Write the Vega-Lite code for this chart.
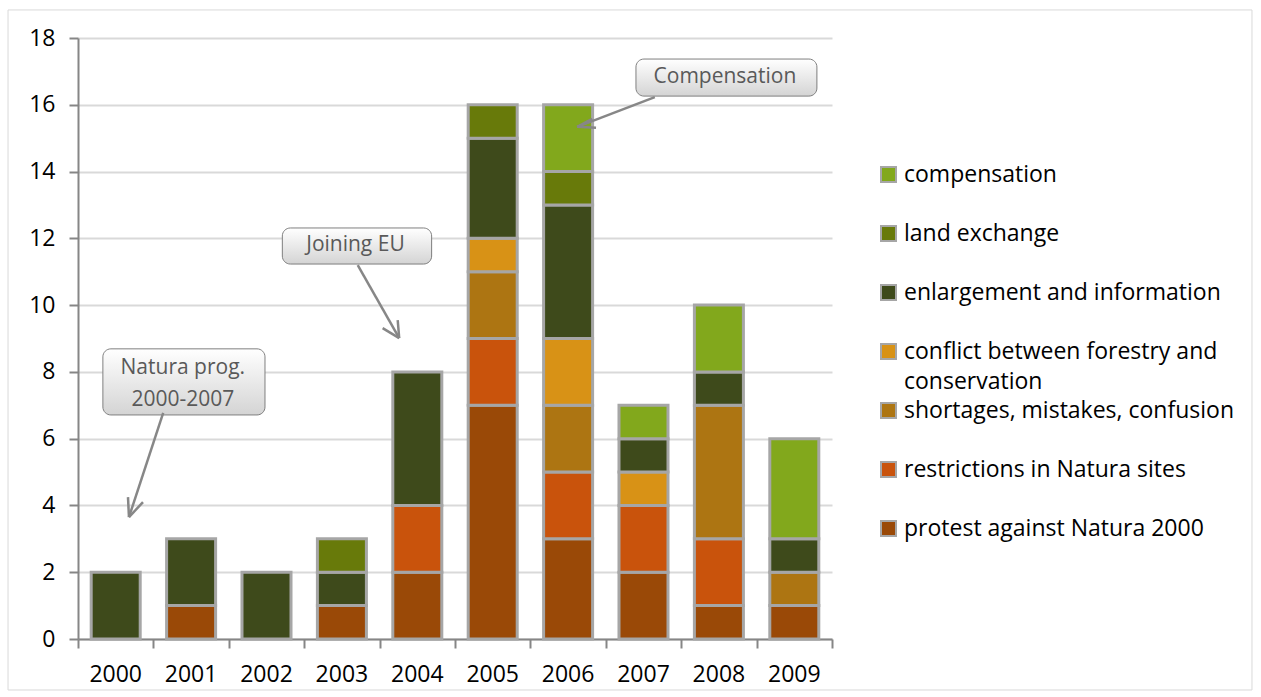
{
  "$schema": "https://vega.github.io/schema/vega-lite/v6.json",
  "autosize": "none",
  "width": 754,
  "height": 601,
  "padding": {"left": 78, "top": 38, "right": 429, "bottom": 58},
  "background": "white",
  "config": {"view": {"stroke": null}, "font": "Open Sans"},
  "datasets": {
    "bars": [
      {"year": "2000", "cat": "enlargement and information", "n": 2, "k": 5},
      {"year": "2001", "cat": "protest against Natura 2000", "n": 1, "k": 1},
      {"year": "2001", "cat": "enlargement and information", "n": 2, "k": 5},
      {"year": "2002", "cat": "enlargement and information", "n": 2, "k": 5},
      {"year": "2003", "cat": "protest against Natura 2000", "n": 1, "k": 1},
      {"year": "2003", "cat": "enlargement and information", "n": 1, "k": 5},
      {"year": "2003", "cat": "land exchange", "n": 1, "k": 6},
      {"year": "2004", "cat": "protest against Natura 2000", "n": 2, "k": 1},
      {"year": "2004", "cat": "restrictions in Natura sites", "n": 2, "k": 2},
      {"year": "2004", "cat": "enlargement and information", "n": 4, "k": 5},
      {"year": "2005", "cat": "protest against Natura 2000", "n": 7, "k": 1},
      {"year": "2005", "cat": "restrictions in Natura sites", "n": 2, "k": 2},
      {"year": "2005", "cat": "shortages, mistakes, confusion", "n": 2, "k": 3},
      {"year": "2005", "cat": "conflict between forestry and conservation", "n": 1, "k": 4},
      {"year": "2005", "cat": "enlargement and information", "n": 3, "k": 5},
      {"year": "2005", "cat": "land exchange", "n": 1, "k": 6},
      {"year": "2006", "cat": "protest against Natura 2000", "n": 3, "k": 1},
      {"year": "2006", "cat": "restrictions in Natura sites", "n": 2, "k": 2},
      {"year": "2006", "cat": "shortages, mistakes, confusion", "n": 2, "k": 3},
      {"year": "2006", "cat": "conflict between forestry and conservation", "n": 2, "k": 4},
      {"year": "2006", "cat": "enlargement and information", "n": 4, "k": 5},
      {"year": "2006", "cat": "land exchange", "n": 1, "k": 6},
      {"year": "2006", "cat": "compensation", "n": 2, "k": 7},
      {"year": "2007", "cat": "protest against Natura 2000", "n": 2, "k": 1},
      {"year": "2007", "cat": "restrictions in Natura sites", "n": 2, "k": 2},
      {"year": "2007", "cat": "conflict between forestry and conservation", "n": 1, "k": 4},
      {"year": "2007", "cat": "enlargement and information", "n": 1, "k": 5},
      {"year": "2007", "cat": "compensation", "n": 1, "k": 7},
      {"year": "2008", "cat": "protest against Natura 2000", "n": 1, "k": 1},
      {"year": "2008", "cat": "restrictions in Natura sites", "n": 2, "k": 2},
      {"year": "2008", "cat": "shortages, mistakes, confusion", "n": 4, "k": 3},
      {"year": "2008", "cat": "enlargement and information", "n": 1, "k": 5},
      {"year": "2008", "cat": "compensation", "n": 2, "k": 7},
      {"year": "2009", "cat": "protest against Natura 2000", "n": 1, "k": 1},
      {"year": "2009", "cat": "shortages, mistakes, confusion", "n": 1, "k": 3},
      {"year": "2009", "cat": "enlargement and information", "n": 1, "k": 5},
      {"year": "2009", "cat": "compensation", "n": 3, "k": 7}
    ],
    "frame": [{"x": -0.928, "x2": 15.57, "y": 18.84, "y2": -1.527}],
    "boxes": [
      {"x": 0.33, "x2": 2.48, "y": 8.69, "y2": 6.71},
      {"x": 2.71, "x2": 4.69, "y": 12.31, "y2": 11.23},
      {"x": 7.40, "x2": 9.80, "y": 17.37, "y2": 16.26}
    ],
    "labels": [
      {"x": 1.39, "y": 8.12, "t": "Natura prog.\n2000-2007"},
      {"x": 3.68, "y": 11.80, "t": "Joining EU"},
      {"x": 8.58, "y": 16.84, "t": "Compensation"}
    ],
    "arrows": [
      {"x": 1.13, "y": 6.77, "x2": 0.676, "y2": 3.65},
      {"x": 0.676, "y": 3.65, "x2": 0.663, "y2": 4.25},
      {"x": 0.676, "y": 3.65, "x2": 0.862, "y2": 4.10},
      {"x": 3.71, "y": 11.2, "x2": 4.26, "y2": 9.01},
      {"x": 4.26, "y": 9.01, "x2": 4.04, "y2": 9.31},
      {"x": 4.26, "y": 9.01, "x2": 4.24, "y2": 9.55},
      {"x": 7.65, "y": 16.23, "x2": 6.62, "y2": 15.34},
      {"x": 6.62, "y": 15.34, "x2": 6.82, "y2": 15.58},
      {"x": 6.62, "y": 15.34, "x2": 6.87, "y2": 15.31}
    ]
  },
  "resolve": {
    "scale": {"x": "independent", "y": "independent", "color": "independent"},
    "axis": {"x": "independent", "y": "independent"}
  },
  "layer": [
    {
      "data": {"name": "frame"},
      "mark": {"type": "rect", "fill": "white", "fillOpacity": 0, "stroke": "#D9D9D9", "strokeWidth": 1},
      "encoding": {
        "x": {"field": "x", "type": "quantitative", "scale": {"domain": [0, 10], "nice": false, "zero": false},
          "axis": {"orient": "bottom", "values": [0, 1, 2, 3, 4, 5, 6, 7, 8, 9, 10], "labels": false, "grid": false, "title": null,
            "domainColor": "#868686", "domainWidth": 2, "tickColor": "#868686", "tickWidth": 2, "tickSize": 9}},
        "x2": {"field": "x2"},
        "y": {"field": "y", "type": "quantitative", "scale": {"domain": [0, 18], "nice": false, "zero": false}, "axis": null},
        "y2": {"field": "y2"}
      }
    },
    {
      "data": {"name": "bars"},
      "mark": {"type": "bar", "stroke": "#A6A6A6", "strokeWidth": 3},
      "encoding": {
        "x": {"field": "year", "type": "nominal", "scale": {"paddingInner": 0.35, "paddingOuter": 0.175},
          "axis": {"orient": "bottom", "title": null, "labelAngle": 0, "domain": false, "ticks": false, "labelPadding": 24,
            "labelFontSize": 23, "labelColor": "#000000", "labelFont": "Open Sans"}},
        "y": {"field": "n", "type": "quantitative", "stack": "zero", "scale": {"domain": [0, 18], "nice": false},
          "axis": {"title": null, "values": [0, 2, 4, 6, 8, 10, 12, 14, 16, 18], "grid": true, "gridColor": "#D9D9D9", "gridWidth": 2,
            "domainColor": "#868686", "domainWidth": 2, "tickColor": "#868686", "tickWidth": 2, "tickSize": 9,
            "labelFontSize": 23, "labelColor": "#000000", "labelPadding": 14, "labelFont": "Open Sans"}},
        "order": {"field": "k", "type": "quantitative", "sort": "ascending"},
        "color": {"field": "cat", "type": "nominal",
          "scale": {
            "domain": ["compensation", "land exchange", "enlargement and information", "conflict between forestry and conservation", "shortages, mistakes, confusion", "restrictions in Natura sites", "protest against Natura 2000"],
            "range": ["#82A81C", "#687A0A", "#3E4A1B", "#D89216", "#AD7512", "#C9530C", "#9A4907"]
          },
          "legend": {
            "orient": "none", "legendX": 799, "legendY": 125, "title": null, "padding": 0,
            "symbolType": "square", "symbolSize": 225, "symbolStrokeColor": "#A6A6A6", "symbolStrokeWidth": 2, "symbolOpacity": 1,
            "labelFontSize": 23, "labelFont": "Open Sans", "labelColor": "#000000", "labelLimit": 400, "labelOffset": 4,
            "rowPadding": 5,
            "labelExpr": "datum.label == 'conflict between forestry and conservation' ? ['conflict between forestry and', 'conservation'] : [datum.label, ' ']",
            "encode": {"labels": {"update": {"lineHeight": {"value": 30}}}}
          }
        }
      }
    },
    {
      "data": {"name": "boxes"},
      "mark": {"type": "rect", "fill": "#A6A6A6", "cornerRadius": 8, "xOffset": 5, "yOffset": 5},
      "encoding": {
        "x": {"field": "x", "type": "quantitative", "scale": {"domain": [0, 10], "nice": false, "zero": false}, "axis": null},
        "x2": {"field": "x2"},
        "y": {"field": "y", "type": "quantitative", "scale": {"domain": [0, 18], "nice": false, "zero": false}, "axis": null},
        "y2": {"field": "y2"}
      }
    },
    {
      "data": {"name": "boxes"},
      "mark": {"type": "rect", "cornerRadius": 8, "stroke": "#7F7F7F", "strokeWidth": 1,
        "fill": {"gradient": "linear", "x1": 0, "y1": 0, "x2": 0, "y2": 1,
          "stops": [{"offset": 0, "color": "#FFFFFF"}, {"offset": 1, "color": "#D4D4D4"}]}},
      "encoding": {
        "x": {"field": "x", "type": "quantitative", "scale": {"domain": [0, 10], "nice": false, "zero": false}, "axis": null},
        "x2": {"field": "x2"},
        "y": {"field": "y", "type": "quantitative", "scale": {"domain": [0, 18], "nice": false, "zero": false}, "axis": null},
        "y2": {"field": "y2"}
      }
    },
    {
      "data": {"name": "labels"},
      "mark": {"type": "text", "font": "Open Sans", "fontSize": 21, "color": "#595959", "align": "center", "baseline": "middle", "lineBreak": "\n", "lineHeight": 32},
      "encoding": {
        "x": {"field": "x", "type": "quantitative", "scale": {"domain": [0, 10], "nice": false, "zero": false}, "axis": null},
        "y": {"field": "y", "type": "quantitative", "scale": {"domain": [0, 18], "nice": false, "zero": false}, "axis": null},
        "text": {"field": "t"}
      }
    },
    {
      "data": {"name": "arrows"},
      "mark": {"type": "rule", "color": "#878787", "strokeWidth": 2.5},
      "encoding": {
        "x": {"field": "x", "type": "quantitative", "scale": {"domain": [0, 10], "nice": false, "zero": false}, "axis": null},
        "x2": {"field": "x2"},
        "y": {"field": "y", "type": "quantitative", "scale": {"domain": [0, 18], "nice": false, "zero": false}, "axis": null},
        "y2": {"field": "y2"}
      }
    }
  ]
}
